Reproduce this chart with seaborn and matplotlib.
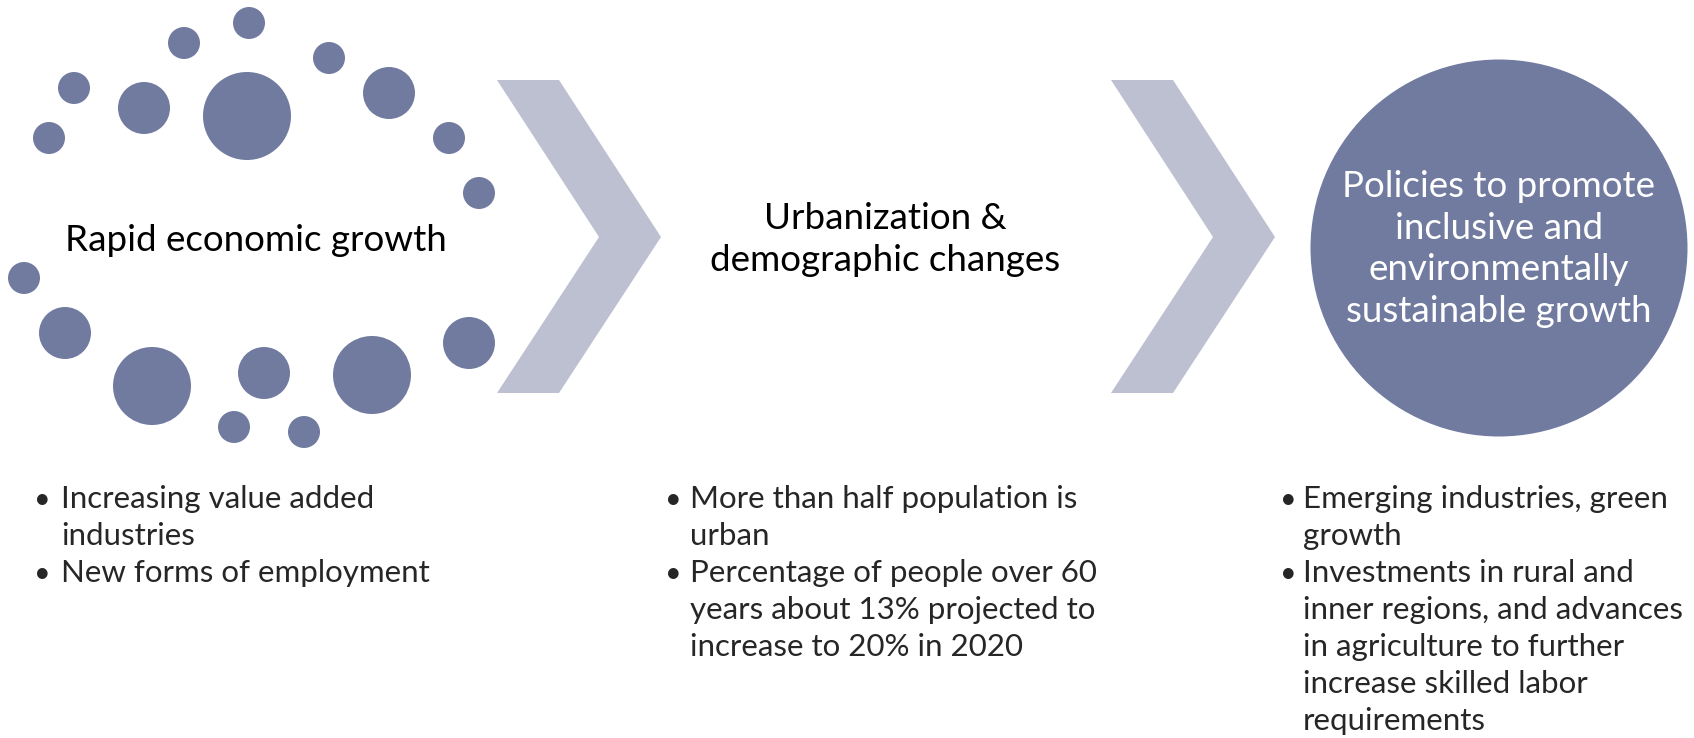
import numpy as np
import pandas as pd
import matplotlib
matplotlib.use("Agg")
import matplotlib.pyplot as plt
import seaborn as sns

# bubbles around "Rapid economic growth" (centre x, centre y, radius in px)
bubble_x = [247, 144, 389, 184, 249, 329, 74, 49, 449, 479, 24, 65, 152, 264, 372, 469, 234, 304]
bubble_y = [116, 108, 93, 43, 23, 58, 88, 138, 138, 193, 278, 333, 386, 373, 375, 343, 427, 432]
bubble_r = [44, 26, 26, 16, 16, 16, 16, 16, 16, 16, 16, 26, 39, 26, 39, 26, 16, 16]

# big circle on the right
goal_x = [1499]
goal_y = [248]
goal_r = [188.5]

# chevron arrows (left edge x)
chevron_left = [497, 1111]

step_titles = ["Rapid economic growth",
               "Urbanization &\ndemographic changes",
               "Policies to promote\ninclusive and\nenvironmentally\nsustainable growth"]

left_bullets = [["Increasing value added", "industries"],
                ["New forms of employment"]]
mid_bullets = [["More than half population is", "urban"],
               ["Percentage of people over 60", "years about 13% projected to", "increase to 20% in 2020"]]
right_bullets = [["Emerging industries, green", "growth"],
                 ["Investments in rural and", "inner regions, and advances",
                  "in agriculture to further", "increase skilled labor", "requirements"]]

dark = "#717ba0"
light = "#bcc0d0"

sns.set_style("white")
plt.rcParams['font.family'] = ['Lato', 'DejaVu Sans']

W, H = 1694, 738
fig = plt.figure(figsize=(W / 100, H / 100), dpi=100)
ax = fig.add_axes([0, 0, 1, 1])

# chevrons
for L in chevron_left:
    top, bot, mid = 80, 393, 237
    xs = [L, L + 62, L + 164, L + 62, L, L + 102]
    ys = [top, top, mid, bot, bot, mid]
    ax.fill(xs, ys, color=light, lw=0)

# bubbles, size in points^2 from radius in px
df = pd.DataFrame({"x": bubble_x + goal_x, "y": bubble_y + goal_y, "r": bubble_r + goal_r})
df["s"] = (2 * df["r"] * 72 / 100) ** 2
sns.scatterplot(data=df, x="x", y="y", s=df["s"].values, color=dark, linewidth=0,
                legend=False, ax=ax)
ax.set_xlim(0, W)
ax.set_ylim(H, 0)
ax.axis("off")

# titles
tsize = 26.5
ax.text(256, 251, step_titles[0], fontsize=tsize, ha="center", va="baseline", color="black")
lines = step_titles[1].split("\n")
for i, t in enumerate(lines):
    ax.text(885, 229 + i * 41.7, t, fontsize=tsize, ha="center", va="baseline", color="black")
lines = step_titles[2].split("\n")
for i, t in enumerate(lines):
    ax.text(1499, 197 + i * 41.7, t, fontsize=tsize, ha="center", va="baseline", color="white")

# bullet lists
bsize = 22.5


def draw_bullets(groups, xb, xt):
    y = 508
    for g in groups:
        ax.text(xb, y, "\u2022", fontsize=bsize - 2, ha="center", va="baseline")
        for line in g:
            ax.text(xt, y, line, fontsize=bsize, ha="left", va="baseline")
            y += 37


draw_bullets(left_bullets, 42, 61)
draw_bullets(mid_bullets, 673, 690)
draw_bullets(right_bullets, 1288, 1303)

fig.savefig("out.png", dpi=100)
